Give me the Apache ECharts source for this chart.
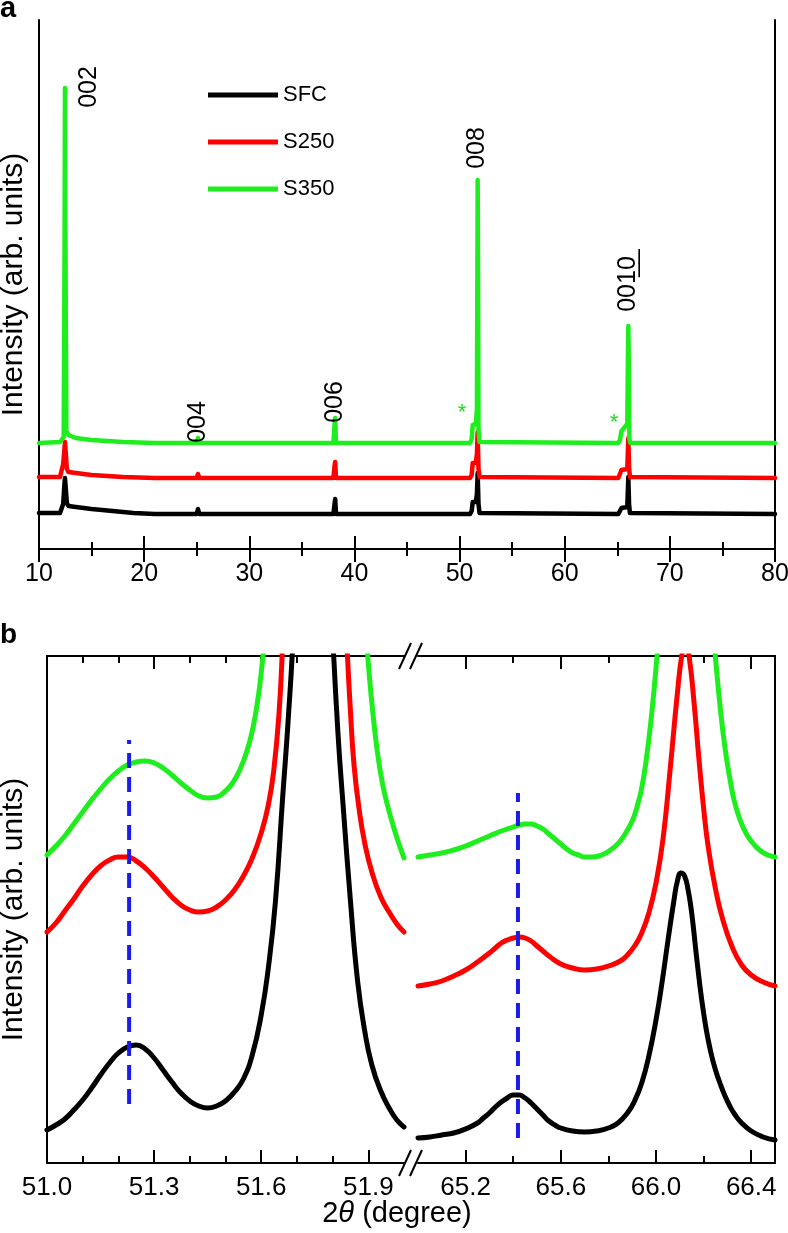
<!DOCTYPE html>
<html><head><meta charset="utf-8">
<script src="https://cdn.jsdelivr.net/npm/echarts@6.0.0/dist/echarts.min.js"></script>
<style>html,body{margin:0;padding:0;background:#fff}#c{width:788px;height:1233px}</style>
</head><body><div id="c"></div>
<script>
// ---------------- DATA ----------------
const seriesNames = ['SFC', 'S250', 'S350'];
const seriesColors = ['#000000', '#ff0000', '#1eee1e'];

// Panel a: full 2θ scans (2θ in degrees, intensity in arb. units, traces offset)
const scanSFC = [[10,36],[12.0,36],[12.3,45],[12.42,65],[12.47,71],[12.55,60],[12.65,46],[12.8,43],[13.5,42],[15,40],[17,38],[19,36],[21,35],[25.0,35],[25.12,40],[25.17,42],[25.25,35],[38.0,35],[38.12,46],[38.17,50],[38.25,35],[51.0,35],[51.15,38],[51.25,47],[51.35,46],[51.55,47],[51.65,55],[51.72,76],[51.8,45],[51.9,36],[65.1,35],[65.25,37],[65.4,41],[65.55,40],[65.95,42],[66.05,72],[66.12,45],[66.2,36],[80,35]];
const scanS250 = [[10,72],[12.0,72],[12.3,85],[12.42,100],[12.47,107],[12.55,95],[12.65,80],[12.8,77],[13.5,76],[15,74],[18,72],[21,71],[25.0,71],[25.12,75],[25.17,77],[25.25,71],[38.0,71],[38.12,84],[38.17,87],[38.25,71],[51.0,71],[51.15,74],[51.25,86],[51.35,85],[51.55,86],[51.65,95],[51.72,117],[51.8,80],[51.9,72],[65.1,71],[65.25,73],[65.4,79],[65.55,78],[65.95,80],[66.05,111],[66.12,82],[66.2,72],[80,71]];
const scanS350 = [[10,106],[12.0,107],[12.35,112],[12.43,300],[12.47,461],[12.52,300],[12.6,118],[12.8,114],[13.5,111],[15,109],[18,107],[21,106],[25.0,106],[25.12,111],[25.17,113],[25.25,106],[38.0,106],[38.12,126],[38.17,131],[38.25,106],[51.0,106],[51.15,110],[51.25,124],[51.35,126],[51.55,125],[51.65,140],[51.7,300],[51.72,369],[51.75,300],[51.8,120],[51.9,107],[65.1,106],[65.25,109],[65.4,118],[65.55,119],[65.95,125],[66.02,200],[66.05,223],[66.08,200],[66.15,110],[66.25,106],[80,106]];
const peakLabels = [[14.74,462,'002'],[25.17,127,'004'],[38.2,147,'006'],[51.66,401,'008'],[66.02,265,'001\u03320\u0332']];
const impurityMarks = [[50.23,136,'*'],[64.69,126,'*']];
const axisA = { min: 10, max: 80, step: 10 };

// Panel b: zoom around 008 (left) and 0010 (right)
const zoomLeftSFC = [[51.00,33],[51.025,38],[51.05,44],[51.075,53],[51.10,63],[51.125,75],[51.15,88],[51.175,100],[51.20,110],[51.225,116],[51.25,118],[51.275,114],[51.30,105],[51.325,93],[51.35,81],[51.375,70],[51.40,62],[51.425,57],[51.45,55],[51.475,57],[51.50,62],[51.525,71],[51.55,84],[51.575,108],[51.60,148],[51.62,195],[51.64,262],[51.66,365],[51.675,440],[51.69,530],[51.71,700],[51.745,1200],[51.78,700],[51.80,530],[51.815,430],[51.83,355],[51.85,262],[51.87,182],[51.89,132],[51.91,98],[51.935,72],[51.96,54],[51.98,43],[52.00,36]];
const zoomLeftS250 = [[51.00,231],[51.025,240],[51.05,252],[51.075,264],[51.10,277],[51.125,288],[51.15,297],[51.175,303],[51.20,306],[51.225,306],[51.25,302],[51.275,295],[51.30,286],[51.325,276],[51.35,266],[51.375,258],[51.40,253],[51.425,251],[51.45,252],[51.475,256],[51.50,263],[51.525,273],[51.55,287],[51.575,305],[51.60,330],[51.62,358],[51.635,392],[51.65,450],[51.66,520],[51.68,700],[51.75,1500],[51.82,700],[51.84,520],[51.85,452],[51.86,398],[51.875,352],[51.89,320],[51.91,291],[51.935,266],[51.96,250],[51.98,239],[52.00,231]];
const zoomLeftS350 = [[51.00,308],[51.025,317],[51.05,327],[51.075,339],[51.10,351],[51.125,363],[51.15,374],[51.175,384],[51.20,392],[51.225,398],[51.25,401],[51.275,402],[51.30,400],[51.325,395],[51.35,388],[51.375,380],[51.40,373],[51.425,367],[51.45,365],[51.475,366],[51.50,372],[51.52,380],[51.54,393],[51.56,412],[51.575,432],[51.59,462],[51.60,490],[51.61,530],[51.63,650],[51.75,1500],[51.87,650],[51.89,545],[51.90,500],[51.91,460],[51.925,412],[51.94,379],[51.955,356],[51.97,337],[51.985,320],[52.00,305]];
const zoomRightSFC = [[65.00,25],[65.05,26],[65.10,28],[65.15,30],[65.20,34],[65.25,40],[65.275,45],[65.30,50],[65.325,56],[65.35,61],[65.375,65],[65.40,68],[65.425,68],[65.45,65],[65.475,60],[65.50,54],[65.525,48],[65.55,42],[65.575,38],[65.60,35],[65.65,32],[65.70,31],[65.75,32],[65.80,35],[65.84,40],[65.88,50],[65.91,62],[65.94,80],[65.97,107],[66.00,143],[66.025,180],[66.05,222],[66.075,262],[66.09,282],[66.105,290],[66.12,287],[66.135,273],[66.15,250],[66.17,207],[66.19,167],[66.21,135],[66.23,111],[66.25,93],[66.27,79],[66.29,67],[66.31,57],[66.33,49],[66.36,40],[66.40,32],[66.45,26],[66.50,23]];
const zoomRightS250 = [[65.00,177],[65.05,179],[65.10,182],[65.15,187],[65.20,193],[65.25,201],[65.30,210],[65.325,215],[65.35,220],[65.375,223],[65.40,225],[65.425,226],[65.45,225],[65.475,222],[65.50,217],[65.525,212],[65.55,207],[65.60,199],[65.65,195],[65.70,193],[65.75,194],[65.80,197],[65.85,202],[65.88,208],[65.91,217],[65.94,230],[65.97,250],[66.00,280],[66.03,325],[66.06,395],[66.09,470],[66.11,510],[66.125,520],[66.14,505],[66.16,460],[66.18,405],[66.20,355],[66.22,315],[66.25,274],[66.28,244],[66.32,216],[66.36,198],[66.40,188],[66.45,181],[66.50,177]];
const zoomRightS350 = [[65.00,306],[65.05,308],[65.10,310],[65.15,313],[65.20,317],[65.25,322],[65.30,327],[65.35,332],[65.40,336],[65.425,338],[65.45,339],[65.475,339],[65.50,337],[65.525,334],[65.55,329],[65.575,324],[65.60,319],[65.625,314],[65.65,310],[65.675,308],[65.70,306],[65.73,306],[65.76,307],[65.79,310],[65.82,315],[65.85,322],[65.875,331],[65.90,342],[65.92,356],[65.94,375],[65.96,405],[65.98,445],[66.00,495],[66.02,560],[66.12,1500],[66.23,560],[66.25,505],[66.27,455],[66.29,415],[66.31,385],[66.33,361],[66.355,342],[66.38,329],[66.41,319],[66.44,312],[66.47,308],[66.50,306]];
const refLineLeft = [[51.23,59],[51.23,423]];
const refLineRight = [[65.42,25],[65.42,370]];
const leftRange = [51.0, 52.0];
const rightRange = [65.0, 66.5];
const leftMajorTicks = [51.0, 51.3, 51.6, 51.9];
const leftMinorTicks = [51.1, 51.2, 51.4, 51.5, 51.7, 51.8];
const rightMajorTicks = [65.2, 65.6, 66.0, 66.4];
const rightMinorTicks = [65.4, 65.8, 66.2];
const yMaxA = 529, yMaxB = 507;

// ---------------- LAYOUT / STYLE ----------------
const FF = '"Liberation Sans", Arial, Helvetica, sans-serif';
const BLUE = '#1c1ce8';
const G = { a: { left: 39, top: 20, width: 736, height: 529 },
            bl: { left: 47, top: 656, width: 357, height: 507 },
            br: { left: 418, top: 656, width: 357, height: 507 } };
const axLine = { show: true, lineStyle: { color: '#000', width: 2 } };
const noSplit = { show: false };

function tickAxis(gridIndex, pos, range, values, len, labels) {
  return {
    type: 'value', gridIndex, position: pos, min: range[0], max: range[1],
    axisLine: labels === null ? { show: false } : axLine,
    splitLine: noSplit,
    axisTick: { show: true, inside: true, length: len, customValues: values, lineStyle: { color: '#000', width: 2 } },
    axisLabel: labels ? { show: true, customValues: values, margin: 12, fontSize: 26, color: '#000', fontFamily: FF,
      formatter: v => v.toFixed(1) } : { show: false }
  };
}

const xAxes = [
  { type: 'value', gridIndex: 0, position: 'bottom', min: axisA.min, max: axisA.max, interval: axisA.step,
    axisLine: axLine, splitLine: noSplit,
    axisTick: { inside: true, length: 13, lineStyle: { color: '#000', width: 2 } },
    minorTick: { show: true, splitNumber: 2, length: 7, lineStyle: { color: '#000', width: 2 } },
    axisLabel: { margin: 13, fontSize: 25, color: '#000', fontFamily: FF } },
  { type: 'value', gridIndex: 0, position: 'top', min: axisA.min, max: axisA.max, interval: axisA.step,
    axisLine: axLine, splitLine: noSplit,
    axisTick: { inside: true, length: 13, lineStyle: { color: '#000', width: 2 } },
    minorTick: { show: true, splitNumber: 2, length: 7, lineStyle: { color: '#000', width: 2 } },
    axisLabel: { show: false } },
  tickAxis(1, 'bottom', leftRange, leftMajorTicks, 13, true),
  tickAxis(1, 'bottom', leftRange, leftMinorTicks, 7, null),
  tickAxis(1, 'top', leftRange, leftMajorTicks, 13, false),
  tickAxis(1, 'top', leftRange, leftMinorTicks, 7, null),
  tickAxis(2, 'bottom', rightRange, rightMajorTicks, 13, true),
  tickAxis(2, 'bottom', rightRange, rightMinorTicks, 7, null),
  tickAxis(2, 'top', rightRange, rightMajorTicks, 13, false),
  tickAxis(2, 'top', rightRange, rightMinorTicks, 7, null)
];

const yName = { fontSize: 30, color: '#000', fontFamily: FF };
const yAxes = [
  { type: 'value', gridIndex: 0, position: 'left', min: 0, max: yMaxA, axisLine: axLine, axisTick: { show: false },
    axisLabel: { show: false }, splitLine: noSplit,
    name: 'Intensity (arb. units)', nameLocation: 'middle', nameRotate: 90, nameGap: 10, nameTextStyle: yName },
  { type: 'value', gridIndex: 0, position: 'right', min: 0, max: yMaxA, axisLine: axLine, axisTick: { show: false },
    axisLabel: { show: false }, splitLine: noSplit },
  { type: 'value', gridIndex: 1, position: 'left', min: 0, max: yMaxB, axisLine: axLine, axisTick: { show: false },
    axisLabel: { show: false }, splitLine: noSplit,
    name: 'Intensity (arb. units)', nameLocation: 'middle', nameRotate: 90, nameGap: 18, nameTextStyle: yName },
  { type: 'value', gridIndex: 2, position: 'right', min: 0, max: yMaxB, axisLine: axLine, axisTick: { show: false },
    axisLabel: { show: false }, splitLine: noSplit }
];

function lineSeries(name, data, xi, yi, color, width, smooth) {
  return { name, type: 'line', data, xAxisIndex: xi, yAxisIndex: yi, showSymbol: false, symbol: 'none',
    smooth: smooth, clip: true, itemStyle: { color }, lineStyle: { color, width, cap: 'round', join: 'round' },
    emphasis: { disabled: true }, silent: true, animation: false };
}

const panelA = [scanSFC, scanS250, scanS350];
const bLeft = [zoomLeftSFC, zoomLeftS250, zoomLeftS350];
const bRight = [zoomRightSFC, zoomRightS250, zoomRightS350];
const series = [];
seriesNames.forEach((n, i) => series.push(lineSeries(n, panelA[i], 0, 0, seriesColors[i], 4.5, false)));
seriesNames.forEach((n, i) => series.push(lineSeries(n, bLeft[i], 2, 2, seriesColors[i], 5, 0.5)));
seriesNames.forEach((n, i) => series.push(lineSeries(n, bRight[i], 6, 3, seriesColors[i], 5, 0.5)));

function dashSeries(data, xi, yi) {
  return { type: 'line', data, xAxisIndex: xi, yAxisIndex: yi, showSymbol: false, symbol: 'none', silent: true,
    lineStyle: { color: BLUE, width: 4, type: [15, 9] }, z: 5 };
}
series.push(dashSeries(refLineLeft, 2, 2));
series.push(dashSeries(refLineRight, 6, 3));

const annLabel = { show: true, position: 'inside', textBorderWidth: 0, textShadowBlur: 0, fontFamily: FF, opacity: 1 };
const annItem = { color: 'transparent', opacity: 1 };
series.push({ type: 'scatter', data: peakLabels, xAxisIndex: 0, yAxisIndex: 0, symbolSize: 1, silent: true,
  itemStyle: annItem, z: 10,
  label: Object.assign({}, annLabel, { rotate: 90, formatter: p => p.data[2], fontSize: 25, color: '#000' }) });
series.push({ type: 'scatter', data: impurityMarks, xAxisIndex: 0, yAxisIndex: 0, symbolSize: 1, silent: true,
  itemStyle: annItem, z: 10,
  label: Object.assign({}, annLabel, { formatter: p => p.data[2], fontSize: 22, color: '#1edc1e' }) });

// axis-break marks (decoration) and panel letters
const brk = [];
[G.bl.top, G.bl.top + G.bl.height].forEach(yc => {
  [[399, 411], [410, 422]].forEach(([x1, x2]) => {
    brk.push({ type: 'line', shape: { x1: x1, y1: yc + 13, x2: x2, y2: yc - 13 }, style: { stroke: '#000', lineWidth: 2 }, silent: true });
  });
});

const chart = echarts.init(document.getElementById('c'), null, { renderer: 'canvas' });
chart.setOption({
  animation: false,
  backgroundColor: '#fff',
  grid: [Object.assign({ outerBoundsMode: 'none' }, G.a), Object.assign({ outerBoundsMode: 'none' }, G.bl), Object.assign({ outerBoundsMode: 'none' }, G.br)],
  xAxis: xAxes,
  yAxis: yAxes,
  legend: { data: seriesNames, orient: 'vertical', left: 203, top: 79, itemWidth: 70, itemHeight: 5, itemGap: 25,
    icon: 'rect', selectedMode: false,
    textStyle: { fontSize: 22, color: '#000', fontFamily: FF } },
  series,
  graphic: brk.concat([
    { type: 'text', x: 0, y: 9, silent: true, style: { text: 'a', font: 'bold 29px ' + FF, fill: '#000', verticalAlign: 'middle' } },
    { type: 'text', x: 0, y: 635, silent: true, style: { text: 'b', font: 'bold 28px ' + FF, fill: '#000', verticalAlign: 'middle' } },
    { type: 'text', x: 397, y: 1214, silent: true, style: { text: '2{i|\u03b8} (degree)', font: '29px ' + FF, fill: '#000',
      align: 'center', verticalAlign: 'middle', rich: { i: { fontStyle: 'italic', fontSize: 29, fontFamily: FF } } } }
  ])
});
</script></body></html>
